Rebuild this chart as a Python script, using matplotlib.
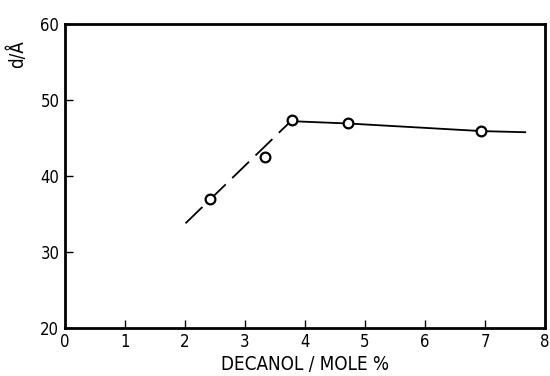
import matplotlib
matplotlib.use("Agg")
import matplotlib.pyplot as plt

# measured points
decanol = [2.42, 3.33, 3.79, 4.72, 6.94]
spacing = [37.0, 42.5, 47.4, 46.9, 45.9]

# hand-drawn trend lines
rise_x = [2.01, 3.79]
rise_y = [33.75, 47.4]
flat_x = [3.79, 4.72, 6.94, 7.67]
flat_y = [47.2, 46.9, 45.9, 45.75]

xticks = [0, 1, 2, 3, 4, 5, 6, 7, 8]
yticks = [20, 30, 40, 50, 60]

plt.rcParams['font.family'] = ['DejaVu Sans']
plt.rcParams['font.stretch'] = 'condensed'

fig = plt.figure(figsize=(5.5, 3.76), dpi=100)
ax = fig.add_axes([0.118, 0.1285, 0.873, 0.8075])

ax.plot(rise_x, rise_y, color='black', lw=1.3, dashes=(13, 5), zorder=2)
ax.plot(flat_x, flat_y, color='black', lw=1.3, zorder=2)
ax.plot(decanol, spacing, linestyle='none', marker='o', ms=7,
        mfc='white', mec='black', mew=1.6, zorder=3)

ax.set_xlim(0, 8)
ax.set_ylim(20, 60)
ax.set_xticks(xticks)
ax.set_yticks(yticks)
ax.tick_params(direction='in', length=6, width=1, labelsize=12, pad=4)
for s in ax.spines.values():
    s.set_linewidth(2)

ax.set_xlabel('DECANOL / MOLE %', fontsize=13.5, labelpad=3)
ax.set_ylabel('d/Å', fontsize=13.5)
ax.yaxis.set_label_coords(-0.078, 0.9)

fig.savefig('out.png', dpi=100)
